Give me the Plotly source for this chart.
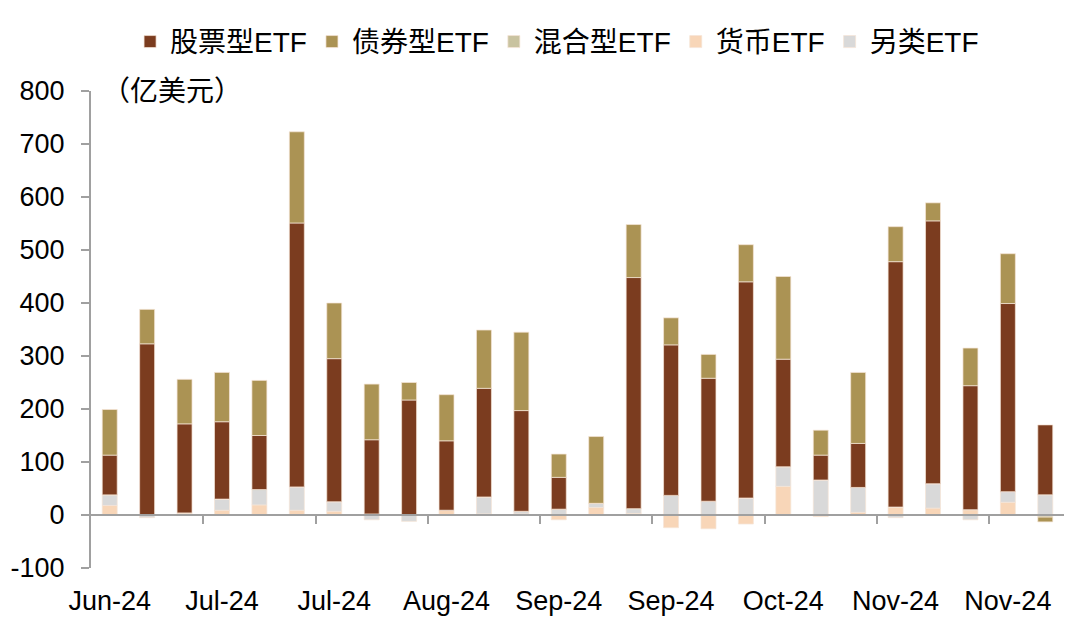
import plotly.graph_objects as go

# ---- data (亿美元) ----
categories = list(range(26))
tick_labels = ["Jun-24", "Jul-24", "Jul-24", "Aug-24", "Sep-24", "Sep-24", "Oct-24", "Nov-24", "Nov-24"]
y_ticks = [-100, 0, 100, 200, 300, 400, 500, 600, 700, 800]

stock_etf = [75, 323, 168, 146, 102, 498, 270, 140, 217, 131, 205, 190, 60, 0, 436, 284, 232, 408, 203, 47, 83, 463, 496, 234, 355, 132]
bond_etf = [86, 65, 84, 93, 104, 172, 105, 105, 33, 87, 110, 148, 44, 126, 100, 51, 45, 70, 156, 47, 134, 66, 34, 71, 94, -9]
mixed_etf = [0, 0, 0, 0, 0, 0, 0, 0, 0, 0, 0, 0, 0, 0, 0, 0, 0, 0, 0, 0, 0, 0, 0, 0, 0, -4]
money_etf = [18, 0, 4, 9, 19, 9, 7, 2, 0, 9, 2, 2, -9, 14, 3, -24, -26, -17, 54, -3, 5, 15, 13, 10, 24, 0]
other_etf = [20, -5, 0, 21, 29, 44, 18, -9, -12, 0, 32, 5, 11, 8, 9, 37, 26, 32, 37, 66, 47, -5, 46, -9, 20, 38]

names = ["股票型ETF", "债券型ETF", "混合型ETF", "货币ETF", "另类ETF"]
colors = {"股票型ETF": "#7B3C1F", "债券型ETF": "#AB9354", "混合型ETF": "#C9C3A0",
          "货币ETF": "#F8D6B8", "另类ETF": "#D9D9D9"}
series = {"股票型ETF": stock_etf, "债券型ETF": bond_etf, "混合型ETF": mixed_etf,
          "货币ETF": money_etf, "另类ETF": other_etf}
stack_order = ["货币ETF", "另类ETF", "混合型ETF", "股票型ETF", "债券型ETF"]

FONT = "Arial, 'Liberation Sans', 'Noto Sans CJK SC', sans-serif"
AXIS_GRAY = "#A0A0A0"

fig = go.Figure()
for nm in stack_order:
    fig.add_trace(go.Bar(
        x=categories, y=series[nm], name=nm,
        marker=dict(color=colors[nm], line=dict(color="rgba(245,228,215,0.9)", width=0.8)),
        legendrank=names.index(nm) + 1,
    ))

# invisible trace to carry the zero-line axis with group ticks
fig.add_trace(go.Scatter(x=[0], y=[0], xaxis="x2", mode="markers",
                         marker=dict(opacity=0), showlegend=False, hoverinfo="skip"))

fig.update_layout(
    width=1080, height=621,
    margin=dict(l=91, r=16, t=91, b=53),
    barmode="relative", bargap=0.6,
    plot_bgcolor="white", paper_bgcolor="white",
    font=dict(family=FONT, size=27, color="black"),
    showlegend=True,
    legend=dict(orientation="h", x=0.479, xanchor="center", y=1.103, yanchor="middle",
                font=dict(size=28), traceorder="normal", itemwidth=30,
                bgcolor="rgba(0,0,0,0)"),
    xaxis=dict(range=[-0.5, 25.5], tickmode="array",
               tickvals=[i * 3 for i in range(len(tick_labels))], ticktext=tick_labels,
               showline=False, ticks="", showgrid=False, zeroline=False,
               tickfont=dict(size=27), ticklabelstandoff=14, automargin=False),
    xaxis2=dict(overlaying="x", anchor="free", position=100 / 900, range=[-0.5, 25.5],
                tickmode="array", tickvals=[2.5 + 3 * i for i in range(8)],
                ticks="outside", ticklen=8, tickwidth=2, tickcolor=AXIS_GRAY,
                showticklabels=False, showline=True, linecolor=AXIS_GRAY, linewidth=2,
                showgrid=False, zeroline=False, automargin=False),
    yaxis=dict(range=[-100, 800], tickmode="array", tickvals=y_ticks,
               ticktext=[str(v) for v in y_ticks], ticks="outside", ticklen=8,
               tickwidth=2, tickcolor=AXIS_GRAY, showline=True, linecolor=AXIS_GRAY,
               linewidth=2, showgrid=False, zeroline=False, tickfont=dict(size=27),
               ticklabelstandoff=11, automargin=False),
)

fig.add_annotation(text="（亿美元）", xref="paper", yref="paper", x=0.009, y=1.0,
                   xanchor="left", yanchor="middle", showarrow=False,
                   font=dict(size=28, family=FONT))

fig.write_html("out.html")
